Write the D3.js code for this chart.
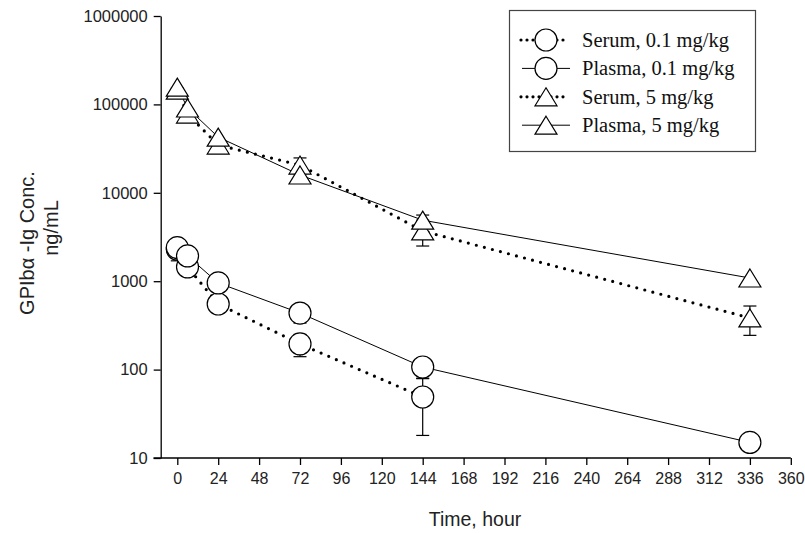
<!DOCTYPE html>
<html>
<head>
<meta charset="utf-8">
<script src="https://cdn.jsdelivr.net/npm/d3@7"></script>
<style>
  body { margin: 0; background: #fff; }
  svg { display: block; }
  .tick text { font-family: "Liberation Sans", Arial, sans-serif; }
</style>
</head>
<body>
<svg id="chart"></svg>
<script>
// sampling times (hours) and concentrations (ng/mL)
const times = [0, 6, 24, 72, 144, 336];

const serumLow = [2300, 1450, 552, 195, 49];
const serumLowErr = [600, 0, 0, 55, 31];
const plasmaLow = [2400, 1930, 955, 436, 107, 15];
const plasmaLowErr = [0, 0, 0, 100, 28, 0];

const serumHigh = [145000, 77800, 34700, 20600, 3700, 384];
const serumHighErr = [8000, 5000, 3000, 4200, 1200, 140];
const plasmaHigh = [157000, 91000, 42700, 15900, 4900, 1087];
const plasmaHighErr = [0, 0, 0, 0, 700, 0];

const xTicks = d3.range(0, 361, 24);
const yTicks = [10, 100, 1000, 10000, 100000, 1000000];

const legendLabels = ["Serum, 0.1 mg/kg", "Plasma, 0.1 mg/kg", "Serum, 5 mg/kg", "Plasma, 5 mg/kg"];

const width = 805;
const height = 533;

const svg = d3.select("#chart").attr("width", width).attr("height", height);

const x = d3.scaleLinear().domain([0, 360]).range([177.3, 790.8]);
const y = d3.scaleLog().domain([10, 1000000]).range([458, 16]);

const series = [
  { name: legendLabels[0], vals: serumLow, err: serumLowErr, dotted: true, shape: "circle" },
  { name: legendLabels[1], vals: plasmaLow, err: plasmaLowErr, dotted: false, shape: "circle" },
  { name: legendLabels[2], vals: serumHigh, err: serumHighErr, dotted: true, shape: "triangle" },
  { name: legendLabels[3], vals: plasmaHigh, err: plasmaHighErr, dotted: false, shape: "triangle" }
];
series.forEach(s => {
  s.points = s.vals.map((v, i) => ({ t: times[i], v: v, e: s.err[i] }));
});

const triPath = "M0,-9L11,9L-11,9Z";

function drawSymbol(g, shape) {
  if (shape === "circle") {
    g.append("circle").attr("r", 11);
  } else {
    g.append("path").attr("d", triPath);
  }
  g.selectAll("circle, path")
    .attr("fill", "#fff")
    .attr("stroke", "#000")
    .attr("stroke-width", 1.2);
}

// axes
const xAxis = svg.append("g")
  .attr("transform", `translate(0,458)`)
  .call(d3.axisBottom(x).tickValues(xTicks).tickSize(7).tickPadding(8).tickSizeOuter(0));
xAxis.select(".domain").remove();
xAxis.append("line")
  .attr("x1", 153.5).attr("x2", 790.8)
  .attr("stroke", "#000").attr("stroke-width", 1.3);
xAxis.selectAll(".tick line").attr("stroke-width", 1.3);
xAxis.selectAll(".tick text").attr("font-size", 16).attr("fill", "#222");

const yAxis = svg.append("g")
  .attr("transform", `translate(160.7,0)`)
  .call(d3.axisLeft(y).tickValues(yTicks).tickFormat(d3.format("d")).tickSize(7).tickPadding(6).tickSizeOuter(0));
yAxis.select(".domain").attr("stroke-width", 1.3);
yAxis.selectAll(".tick line").attr("stroke-width", 1.3);
yAxis.selectAll(".tick text").attr("font-size", 16.5).attr("fill", "#222");

// axis titles
svg.append("text")
  .attr("x", 475).attr("y", 526)
  .attr("text-anchor", "middle")
  .attr("font-family", "Liberation Sans, Arial, sans-serif")
  .attr("font-size", 19.5).attr("fill", "#222")
  .text("Time, hour");

const yTitle = svg.append("text")
  .attr("transform", "rotate(-90)")
  .attr("text-anchor", "middle")
  .attr("font-family", "Liberation Sans, Arial, sans-serif")
  .attr("font-size", 20).attr("fill", "#222");
yTitle.append("tspan").attr("x", -243).attr("y", 34).text("GPIbα -Ig Conc.");
yTitle.append("tspan").attr("x", -228).attr("y", 58).text("ng/mL");

// lines
const line = d3.line().x(d => x(d.t)).y(d => y(d.v));
series.forEach(s => {
  svg.append("path")
    .datum(s.points)
    .attr("d", line)
    .attr("fill", "none")
    .attr("stroke", "#000")
    .attr("stroke-width", s.dotted ? 3.2 : 1)
    .attr("stroke-linecap", s.dotted ? "round" : "butt")
    .attr("stroke-dasharray", s.dotted ? "0,8.3" : null);
});

// error bars
series.forEach(s => {
  const eb = svg.append("g").attr("stroke", "#000").attr("stroke-width", 1.2);
  s.points.filter(d => d.e > 0).forEach(d => {
    const y0 = y(Math.max(d.v - d.e, 11)), y1 = y(d.v + d.e);
    eb.append("line").attr("x1", x(d.t)).attr("x2", x(d.t)).attr("y1", y0).attr("y2", y1);
    eb.append("line").attr("x1", x(d.t) - 6.5).attr("x2", x(d.t) + 6.5).attr("y1", y0).attr("y2", y0);
    eb.append("line").attr("x1", x(d.t) - 6.5).attr("x2", x(d.t) + 6.5).attr("y1", y1).attr("y2", y1);
  });
});

// symbols
series.forEach(s => {
  svg.append("g").selectAll("g")
    .data(s.points)
    .enter()
    .append("g")
    .attr("transform", d => `translate(${x(d.t)},${y(d.v)})`)
    .each(function () { drawSymbol(d3.select(this), s.shape); });
});

// legend
const legend = svg.append("g");
legend.append("rect")
  .attr("x", 509.5).attr("y", 10.5).attr("width", 246).attr("height", 141)
  .attr("fill", "#fff").attr("stroke", "#444").attr("stroke-width", 1.2);

series.forEach((s, i) => {
  const ly = 40 + i * 28.4;
  const row = legend.append("g").attr("transform", `translate(0,${ly})`);
  row.append("line")
    .attr("x1", s.dotted ? 521 : 522).attr("x2", s.dotted ? 568 : 570)
    .attr("stroke", "#000")
    .attr("stroke-width", s.dotted ? 3.2 : 1)
    .attr("stroke-linecap", s.dotted ? "round" : "butt")
    .attr("stroke-dasharray", s.dotted ? "0,6" : null);
  const sym = row.append("g").attr("transform", "translate(546,0)");
  drawSymbol(sym, s.shape);
  row.append("text")
    .attr("x", 582).attr("y", 7)
    .attr("font-family", "Liberation Serif, Times New Roman, serif")
    .attr("font-size", 20.5).attr("fill", "#111")
    .text(s.name);
});
</script>
</body>
</html>
